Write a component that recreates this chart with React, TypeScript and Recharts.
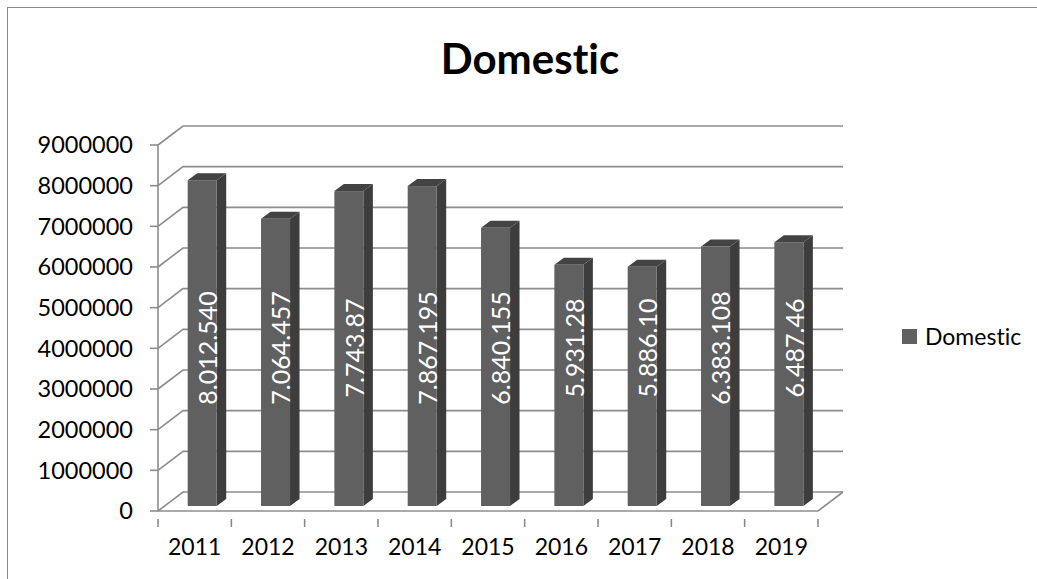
import { BarChart, Bar, XAxis, YAxis, CartesianGrid } from 'recharts';

const years = ['2011', '2012', '2013', '2014', '2015', '2016', '2017', '2018', '2019'];
const domestic = [8012540, 7064457, 7743870, 7867195, 6840155, 5931280, 5886100, 6383108, 6487460];
const valueLabels = ['8.012.540', '7.064.457', '7.743.87', '7.867.195', '6.840.155', '5.931.28', '5.886.10', '6.383.108', '6.487.46'];
const yTicks = [0, 1000000, 2000000, 3000000, 4000000, 5000000, 6000000, 7000000, 8000000, 9000000];

const data = years.map((year, i) => ({ year, domestic: domestic[i], label: valueLabels[i] }));

// 3D look: back wall offset and bar depth
const WALL_DX = 25;
const WALL_DY = 19;
const BAR_SHIFT_X = 7.7;
const BAR_SHIFT_Y = 5;
const DEPTH_X = 9.5;
const DEPTH_Y = 7;
const GRID = '#8c8c8c';
const FONT = 'Lato, "Open Sans", sans-serif';
const noLiga = { fontVariantLigatures: 'none' as const, fontFeatureSettings: '"liga" 0, "dlig" 0' };

function Bar3D(props: any) {
  const { x, y, width, height, payload } = props;
  const fx = x + BAR_SHIFT_X;
  const top = y - BAR_SHIFT_Y;
  const bottom = y + height - BAR_SHIFT_Y;
  const w = width;
  return (
    <g>
      <polygon
        points={`${fx + w},${top} ${fx + w + DEPTH_X},${top - DEPTH_Y} ${fx + w + DEPTH_X},${bottom - DEPTH_Y} ${fx + w},${bottom}`}
        fill="#3d3d3d"
      />
      <polygon
        points={`${fx},${top} ${fx + w},${top} ${fx + w + DEPTH_X},${top - DEPTH_Y} ${fx + DEPTH_X},${top - DEPTH_Y}`}
        fill="#434343"
      />
      <rect x={fx} y={top} width={w} height={bottom - top} fill="#606060" />
      <text
        x={0}
        y={0}
        transform={`translate(${fx + (w + DEPTH_X) / 2}, ${bottom - 158}) rotate(-90)`}
        textAnchor="middle"
        dominantBaseline="central"
        fill="#ffffff"
        fontSize={25}
        fontFamily={FONT}
      >
        {payload.label}
      </text>
    </g>
  );
}

function GridLine(props: any) {
  const { x1, y1, x2, y, height } = props;
  const isFloor = typeof y === 'number' && typeof height === 'number' && Math.abs(y1 - (y + height)) < 0.5;
  return (
    <g key={props.key}>
      <polyline
        points={`${x1},${y1} ${x1 + WALL_DX},${y1 - WALL_DY} ${x2 + WALL_DX},${y1 - WALL_DY}`}
        fill="none"
        stroke={GRID}
        strokeWidth={1.6}
      />
      {isFloor && (
        <line x1={x2} y1={y1} x2={x2 + WALL_DX} y2={y1 - WALL_DY} stroke={GRID} strokeWidth={1.6} />
      )}
    </g>
  );
}

function YearTick(props: any) {
  const { x, y, payload, index, width, visibleTicksCount } = props;
  const band = width / visibleTicksCount;
  const left = x - band / 2;
  return (
    <g>
      <line x1={left} y1={y} x2={left} y2={y + 8} stroke={GRID} strokeWidth={1.6} />
      {index === visibleTicksCount - 1 && (
        <line x1={x + band / 2} y1={y} x2={x + band / 2} y2={y + 8} stroke={GRID} strokeWidth={1.6} />
      )}
      <text x={x} y={y + 27} textAnchor="middle" dominantBaseline="central" fill="#000" fontSize={23} fontFamily={FONT}>
        {payload.value}
      </text>
    </g>
  );
}

export default function App() {
  return (
    <div style={{ position: 'absolute', left: 0, top: 0, width: 1037, height: 579, background: '#fff', overflow: 'hidden' }}>
      <div
        style={{
          position: 'absolute',
          left: 7,
          top: 7,
          width: 1040,
          height: 590,
          borderLeft: '1.5px solid #8a8a8a',
          borderTop: '1.5px solid #8a8a8a',
        }}
      />
      <div
        style={{
          position: 'absolute',
          left: 330,
          width: 400,
          top: 32,
          textAlign: 'center',
          fontFamily: FONT,
          fontWeight: 700,
          fontSize: 42,
          lineHeight: '52px',
          color: '#000',
          ...noLiga,
        }}
      >
        Domestic
      </div>
      <div
        style={{
          position: 'absolute',
          left: 902,
          top: 322,
          display: 'flex',
          alignItems: 'center',
          fontFamily: FONT,
          fontSize: 23,
          color: '#000',
          ...noLiga,
        }}
      >
        <span style={{ display: 'inline-block', width: 15, height: 15, background: '#606060', marginRight: 8 }} />
        <span>Domestic</span>
      </div>
      <div style={{ position: 'absolute', left: 0, top: 0 }}>
        <BarChart width={1037} height={579} data={data} margin={{ top: 145, right: 219, left: 8, bottom: 18 }}>
          <CartesianGrid vertical={false} horizontal={(p: any) => <GridLine {...p} />} />
          <XAxis
            dataKey="year"
            height={50}
            axisLine={{ stroke: GRID, strokeWidth: 1.6 }}
            tickLine={false}
            tick={(p: any) => <YearTick {...p} />}
            interval={0}
          />
          <YAxis
            width={150}
            domain={[0, 9000000]}
            ticks={yTicks}
            interval={0}
            axisLine={{ stroke: GRID, strokeWidth: 1.6 }}
            tickLine={{ stroke: GRID, strokeWidth: 1.6 }}
            tickSize={8}
            tickMargin={17}
            tick={{ fill: '#000', fontSize: 23.5, fontFamily: FONT }}
          />
          <Bar dataKey="domestic" barSize={29} fill="#606060" shape={(p: any) => <Bar3D {...p} />} isAnimationActive={false} />
        </BarChart>
      </div>
    </div>
  );
}
